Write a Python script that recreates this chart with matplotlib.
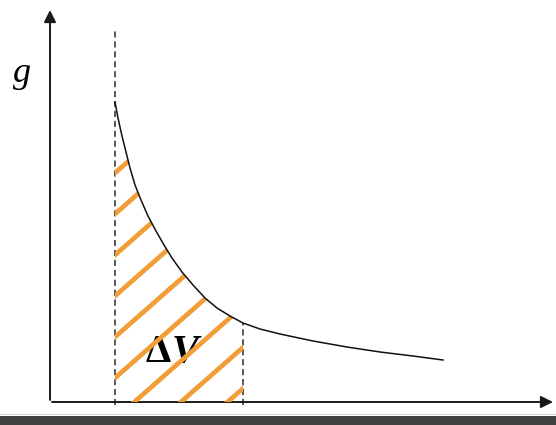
import matplotlib
matplotlib.use("Agg")
import matplotlib.pyplot as plt
from matplotlib.path import Path
from matplotlib.patches import PathPatch, Rectangle

# curve g(V) (origin at the axes corner)
V = [65, 68, 72, 76, 80, 85, 91, 98, 106, 114, 122, 132, 143, 155, 167, 180,
     193, 210, 230, 263, 297, 330, 363, 393]
g = [300, 284, 266, 250, 234, 217, 202, 186, 171, 157, 144, 130, 117, 104, 94,
     86, 79, 73, 68, 61, 55, 50, 46, 42]

V1, V2 = 65, 193          # limits of the shaded volume
g_top_dash = 374          # top of the left dashed line
label_g = 40              # baseline of the "ΔV" label

fig = plt.figure(figsize=(5.56, 4.25), dpi=100)
ax = fig.add_axes([0, 0, 1, 1])
ax.set_xlim(-50, 506)
ax.set_ylim(-23, 402)
ax.axis("off")

# axes with arrows
arrow = dict(arrowstyle="-|>", mutation_scale=18, lw=1.4, color="#1a1a1a",
             shrinkA=0, shrinkB=0)
ax.annotate("", xy=(0, 392), xytext=(0, 2), arrowprops=arrow)
ax.annotate("", xy=(503, 0), xytext=(2, 0), arrowprops=arrow)

# dashed bounds
ax.plot([V1, V1], [-3, g_top_dash], color="#2a2a2a", lw=1.1, ls=(0, (4, 2.5)))
ax.plot([V2, V2], [-3, g[V.index(V2)]], color="#2a2a2a", lw=1.1, ls=(0, (4, 2.5)))

# curve
ax.plot(V, g, color="#111111", lw=1.1, zorder=5)

# hatched area under the curve between V1 and V2, with a hole for the label
i2 = V.index(V2)
outer = [(V1, 0)] + list(zip(V[:i2 + 1], g[:i2 + 1])) + [(V2, 0), (V1, 0)]
hole = [(92, 26), (92, 86), (140, 86), (140, 26), (92, 26)]
verts = outer + hole
codes = ([Path.MOVETO] + [Path.LINETO] * (len(outer) - 2) + [Path.CLOSEPOLY] +
         [Path.MOVETO] + [Path.LINETO] * 3 + [Path.CLOSEPOLY])
clip = PathPatch(Path(verts, codes), facecolor="none", edgecolor="none")
ax.add_patch(clip)

slope, step = 0.88, 41
for k in range(0, 12):
    g0 = 229 - step * k
    ln, = ax.plot([V1 - 5, V2 + 5],
                  [g0 - 5 * slope, g0 + (V2 - V1 + 5) * slope],
                  color="#F29E38", lw=3.4, solid_capstyle="butt", zorder=3)
    ln.set_clip_path(clip)

# labels
ax.text(-28, 320, "g", fontsize=26, family="Liberation Serif", style="italic",
        ha="center", va="baseline")
ax.text(95, label_g, "Δ", fontsize=29, family="Liberation Serif",
        weight="bold", ha="left", va="baseline", zorder=2)
ax.text(122, label_g, "V", fontsize=29, family="Liberation Serif",
        weight="bold", style="italic", ha="left", va="baseline", zorder=2)

# dark strip at the bottom
ax.add_patch(Rectangle((-50, -23), 556, 9, facecolor="#3f3f3f",
                       edgecolor="none", zorder=6))
ax.plot([-50, 506], [-12, -12], color="#d8d8d8", lw=0.8, zorder=6)

fig.savefig("out.png", dpi=100)
plt.close(fig)
